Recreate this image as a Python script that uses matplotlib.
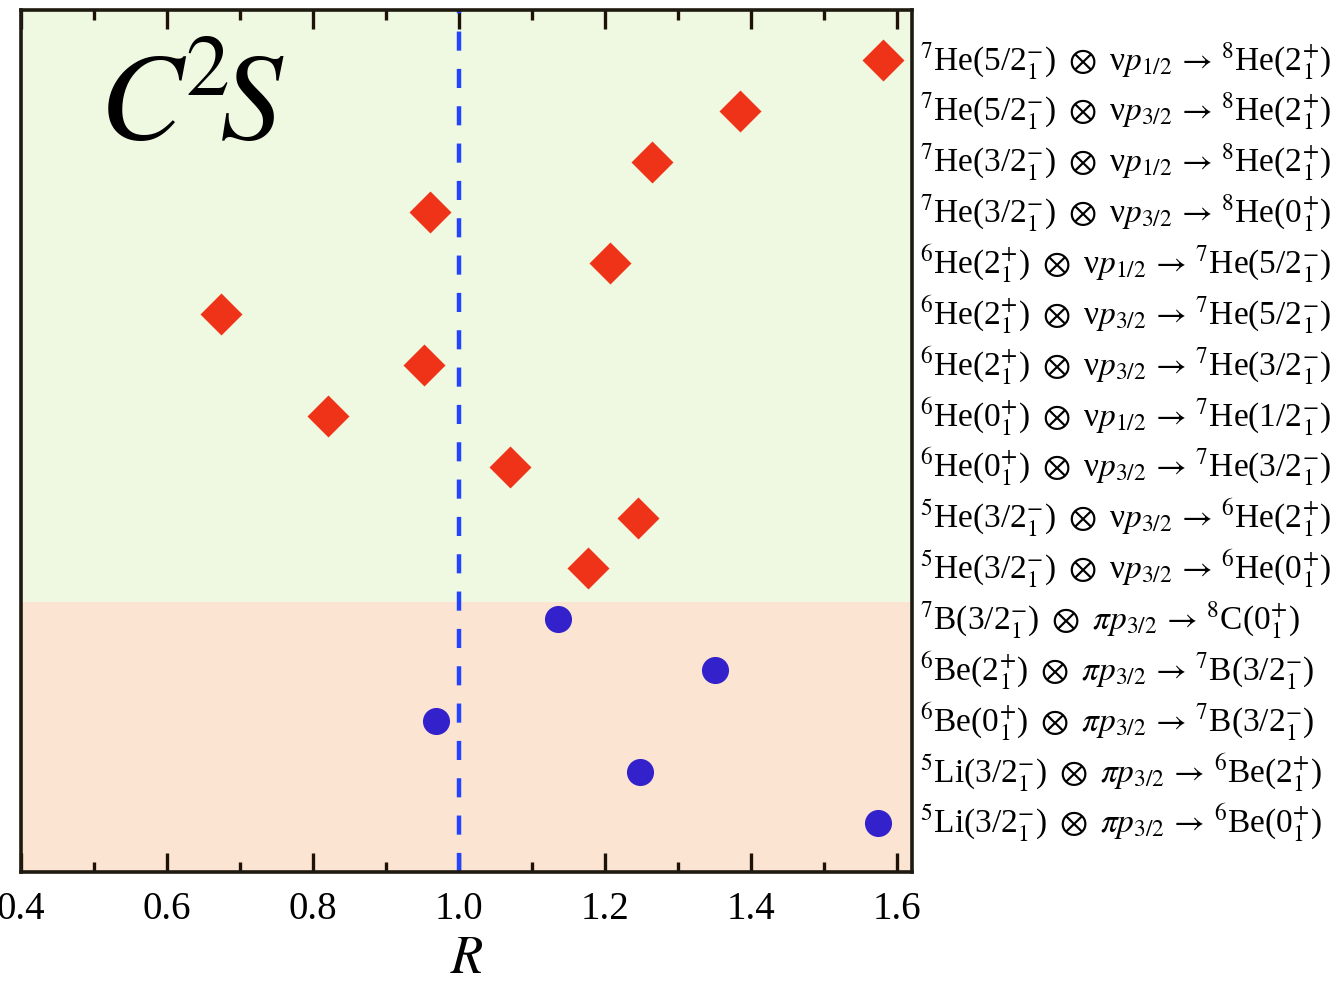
import matplotlib
matplotlib.use("Agg")
import matplotlib.pyplot as plt
from matplotlib.ticker import MultipleLocator

plt.rcParams['font.family'] = ['Liberation Serif', 'DejaVu Serif']
plt.rcParams['mathtext.fontset'] = 'stix'

OT = r"$\ \otimes\ $"
AR = r"$\,\rightarrow\,$"

# Neutron (nu) overlaps: initial state, orbital, final state
nu_labels = [
    "$^{7}$He(5/2$^{-}_{1}$)" + OT + "ν$p_{1/2}$" + AR + "$^{8}$He(2$^{+}_{1}$)",
    "$^{7}$He(5/2$^{-}_{1}$)" + OT + "ν$p_{3/2}$" + AR + "$^{8}$He(2$^{+}_{1}$)",
    "$^{7}$He(3/2$^{-}_{1}$)" + OT + "ν$p_{1/2}$" + AR + "$^{8}$He(2$^{+}_{1}$)",
    "$^{7}$He(3/2$^{-}_{1}$)" + OT + "ν$p_{3/2}$" + AR + "$^{8}$He(0$^{+}_{1}$)",
    "$^{6}$He(2$^{+}_{1}$)" + OT + "ν$p_{1/2}$" + AR + "$^{7}$He(5/2$^{-}_{1}$)",
    "$^{6}$He(2$^{+}_{1}$)" + OT + "ν$p_{3/2}$" + AR + "$^{7}$He(5/2$^{-}_{1}$)",
    "$^{6}$He(2$^{+}_{1}$)" + OT + "ν$p_{3/2}$" + AR + "$^{7}$He(3/2$^{-}_{1}$)",
    "$^{6}$He(0$^{+}_{1}$)" + OT + "ν$p_{1/2}$" + AR + "$^{7}$He(1/2$^{-}_{1}$)",
    "$^{6}$He(0$^{+}_{1}$)" + OT + "ν$p_{3/2}$" + AR + "$^{7}$He(3/2$^{-}_{1}$)",
    "$^{5}$He(3/2$^{-}_{1}$)" + OT + "ν$p_{3/2}$" + AR + "$^{6}$He(2$^{+}_{1}$)",
    "$^{5}$He(3/2$^{-}_{1}$)" + OT + "ν$p_{3/2}$" + AR + "$^{6}$He(0$^{+}_{1}$)",
]
nu_ratio = [1.580, 1.385, 1.264, 0.960, 1.206, 0.674, 0.952, 0.821, 1.069, 1.245, 1.177]

# Proton (pi) overlaps
pi_labels = [
    "$^{7}$B(3/2$^{-}_{1}$)" + OT + r"$\pi p_{3/2}$" + AR + "$^{8}$C(0$^{+}_{1}$)",
    "$^{6}$Be(2$^{+}_{1}$)" + OT + r"$\pi p_{3/2}$" + AR + "$^{7}$B(3/2$^{-}_{1}$)",
    "$^{6}$Be(0$^{+}_{1}$)" + OT + r"$\pi p_{3/2}$" + AR + "$^{7}$B(3/2$^{-}_{1}$)",
    "$^{5}$Li(3/2$^{-}_{1}$)" + OT + r"$\pi p_{3/2}$" + AR + "$^{6}$Be(2$^{+}_{1}$)",
    "$^{5}$Li(3/2$^{-}_{1}$)" + OT + r"$\pi p_{3/2}$" + AR + "$^{6}$Be(0$^{+}_{1}$)",
]
pi_ratio = [1.135, 1.350, 0.968, 1.247, 1.573]

x_ticks = [0.4, 0.6, 0.8, 1.0, 1.2, 1.4, 1.6]
x_tick_labels = ["0.4", "0.6", "0.8", "1.0", "1.2", "1.4", "1.6"]

n_total = len(nu_labels) + len(pi_labels)
nu_y = [n_total - 1 - i for i in range(len(nu_labels))]
pi_y = [len(pi_labels) - 1 - i for i in range(len(pi_labels))]

fig = plt.figure(figsize=(13.44, 9.87), dpi=100)
ax = fig.add_axes([0.0156, 0.1155, 0.663, 0.8734])

ax.set_xlim(0.4, 1.62)
ax.set_ylim(-0.97, 15.98)

# shaded bands: neutron (green) and proton (orange) sections
ax.axhspan(4.33, 20, color='#eff8e1', zorder=0, lw=0)
ax.axhspan(-5, 4.33, color='#fbe5d2', zorder=0, lw=0)

ax.axvline(1.0, color='#2244ff', lw=3.2, dashes=(4.3, 4.1), zorder=2)

ax.plot(nu_ratio, nu_y, linestyle='none', marker='D', ms=21,
        color='#ef3318', mec='none', zorder=3)
ax.plot(pi_ratio, pi_y, linestyle='none', marker='o', ms=19.5,
        color='#3322cc', mec='none', zorder=3)

for lab, y in zip(nu_labels + pi_labels, nu_y + pi_y):
    ax.text(1.0085, y, lab, transform=ax.get_yaxis_transform(),
            ha='left', va='center', fontsize=24)

ax.text(0.088, 0.885, r"$C^{\!2}\!S$", transform=ax.transAxes,
        fontsize=90, ha='left', va='center')

ax.set_xticks(x_ticks)
ax.set_xticklabels(x_tick_labels)
ax.xaxis.set_minor_locator(MultipleLocator(0.1))
ax.set_yticks([])
ax.tick_params(axis='x', which='major', direction='in', length=14, width=2.4,
               top=True, bottom=True, labelsize=28, pad=13, color='#1e1208')
ax.tick_params(axis='x', which='minor', direction='in', length=7, width=2.4,
               top=True, bottom=True, color='#1e1208')
for s in ax.spines.values():
    s.set_linewidth(2.6)
    s.set_color('#1e1a10')

ax.set_xlabel(r"$R$", fontsize=38, labelpad=6)

fig.savefig("out.png", dpi=100)
